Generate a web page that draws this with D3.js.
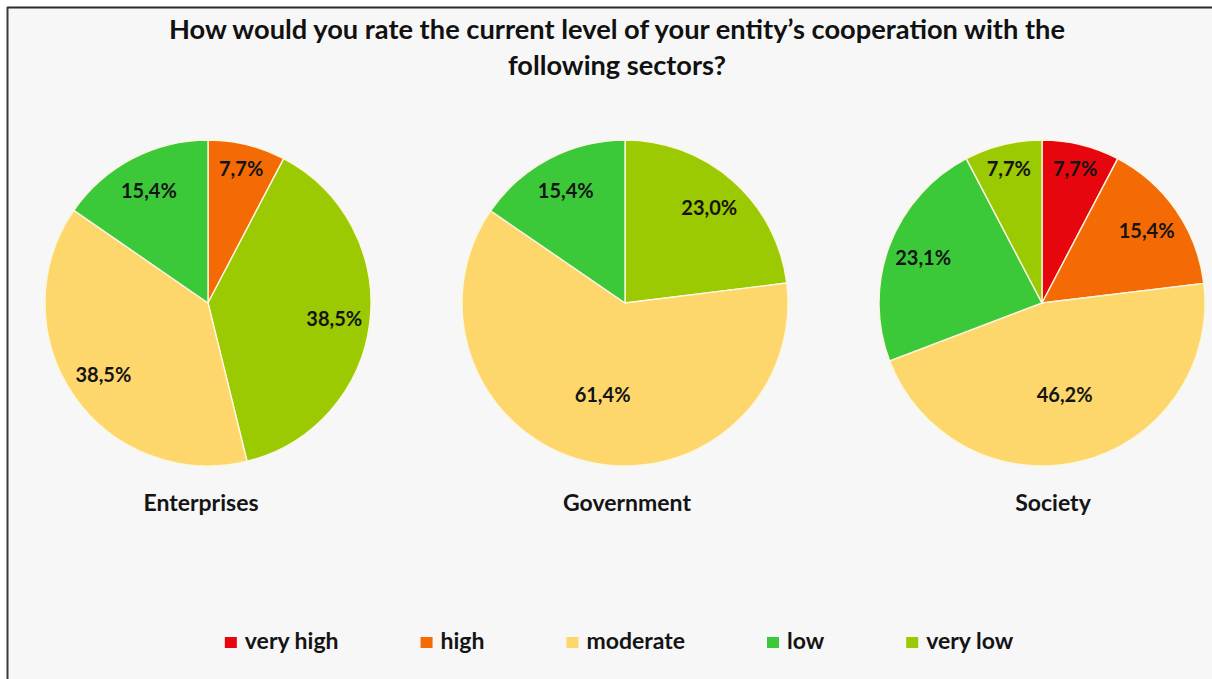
<!DOCTYPE html>
<html>
<head>
<meta charset="utf-8">
<script src="https://cdn.jsdelivr.net/npm/d3@7"></script>
<style>
  html, body { margin: 0; padding: 0; background: #ffffff; }
  svg { display: block; font-family: Lato, "Open Sans", sans-serif; }
</style>
</head>
<body>
<script>
// Rating scale and its colours
const ratings = ["very high", "high", "moderate", "low", "very low"];
const ratingColors = ["#e8060e", "#f46b06", "#fdd76c", "#3bc93a", "#9bca02"];

// Sectors, one pie each
const sectors = ["Enterprises", "Government", "Society"];

// Shares per sector, in the clockwise order the slices are drawn from 12 o'clock
const enterprisesRatings = ["high", "very low", "moderate", "low"];
const enterprisesValues  = [7.7, 38.5, 38.5, 15.4];

const governmentRatings = ["very low", "moderate", "low"];
const governmentValues  = [23.0, 61.4, 15.4];

const societyRatings = ["very high", "high", "moderate", "low", "very low"];
const societyValues  = [7.7, 15.4, 46.2, 23.1, 7.7];

const titleLines = [
  "How would you rate the current level of your entity\u2019s cooperation with the",
  "following sectors?"
];

const sectorData = [
  { sector: sectors[0], ratings: enterprisesRatings, values: enterprisesValues },
  { sector: sectors[1], ratings: governmentRatings,  values: governmentValues },
  { sector: sectors[2], ratings: societyRatings,     values: societyValues }
];

const W = 1212, H = 679;
const svg = d3.select("body").append("svg").attr("width", W).attr("height", H);

// panel with a frame on the top and left edges
svg.append("rect").attr("x", 8).attr("y", 8).attr("width", W - 8).attr("height", H - 8)
  .attr("fill", "#f7f7f7");
svg.append("line").attr("x1", 7).attr("x2", W).attr("y1", 7.5).attr("y2", 7.5)
  .attr("stroke", "#2a2a2a").attr("stroke-width", 2);
svg.append("line").attr("x1", 7.5).attr("x2", 7.5).attr("y1", 7).attr("y2", H)
  .attr("stroke", "#3a3a3a").attr("stroke-width", 2);

// title, fitted to its line widths
const title = svg.append("g").attr("fill", "#111").attr("font-weight", 700)
  .attr("font-size", 26).attr("text-anchor", "middle");
const titleWidths = [896, 218];
titleLines.forEach((t, i) => {
  title.append("text").attr("x", 617).attr("y", 39 + i * 36)
    .attr("textLength", titleWidths[i]).attr("lengthAdjust", "spacingAndGlyphs")
    .text(t);
});

// layout of the pies
const color = d3.scaleOrdinal().domain(ratings).range(ratingColors);
const cx = d3.scalePoint().domain(sectors).range([208, 1042]);
const labelX = d3.scalePoint().domain(sectors).range([201, 1053]);
const cy = 303;
const radius = 163;

const pie = d3.pie().sort(null).value(d => d.value);
const arc = d3.arc().innerRadius(0).outerRadius(radius);
const locale = d3.formatLocale({ decimal: ",", thousands: ".", grouping: [3], currency: ["", "\u20ac"] });
const fmt = locale.format(".1f");

// distance of a value label from the centre, as a share of the radius
function labelRatio(share) {
  if (share <= 0.1) return 0.85;
  if (share <= 0.4) return 0.78;
  return 0.58;
}

sectorData.forEach(s => {
  const rows = s.ratings.map((r, i) => ({ rating: r, value: s.values[i] }));
  const total = d3.sum(s.values);
  const arcs = pie(rows);
  const g = svg.append("g").attr("transform", `translate(${cx(s.sector)},${cy})`);

  g.selectAll("path").data(arcs).join("path")
    .attr("d", arc)
    .attr("fill", d => color(d.data.rating))
    .attr("stroke", "#fbf6df")
    .attr("stroke-width", 1.4)
    .attr("stroke-linejoin", "round");

  g.selectAll("text.value").data(arcs).join("text")
    .attr("class", "value")
    .attr("transform", d => {
      const k = labelRatio(d.data.value / total);
      const lab = d3.arc().innerRadius(radius * k).outerRadius(radius * k);
      const [x, y] = lab.centroid(d);
      return `translate(${x},${y})`;
    })
    .attr("text-anchor", "middle")
    .attr("dy", "0.36em")
    .attr("font-size", 20)
    .attr("font-weight", 700)
    .attr("fill", "#141414")
    .text(d => fmt(d.data.value) + "%");

  svg.append("text")
    .attr("x", labelX(s.sector))
    .attr("y", 511)
    .attr("text-anchor", "middle")
    .attr("font-size", 23)
    .attr("font-weight", 700)
    .attr("fill", "#141414")
    .text(s.sector);
});

// legend
const legend = svg.append("g").attr("transform", "translate(0,649)");
const items = legend.selectAll("g").data(ratings).join("g");
items.append("rect").attr("y", -12).attr("width", 12).attr("height", 11)
  .attr("fill", d => color(d));
items.append("text").attr("x", 20).attr("font-size", 23).attr("font-weight", 700)
  .attr("fill", "#141414").text(d => d);
let xPos = 0;
const starts = [];
items.each(function () {
  const w = d3.select(this).select("text").node().getComputedTextLength();
  starts.push(xPos);
  xPos += 20 + w + 82;
});
const legendWidth = xPos - 82;
const legendLeft = 619 - legendWidth / 2;
items.attr("transform", (d, i) => `translate(${legendLeft + starts[i]},0)`);
</script>
</body>
</html>
